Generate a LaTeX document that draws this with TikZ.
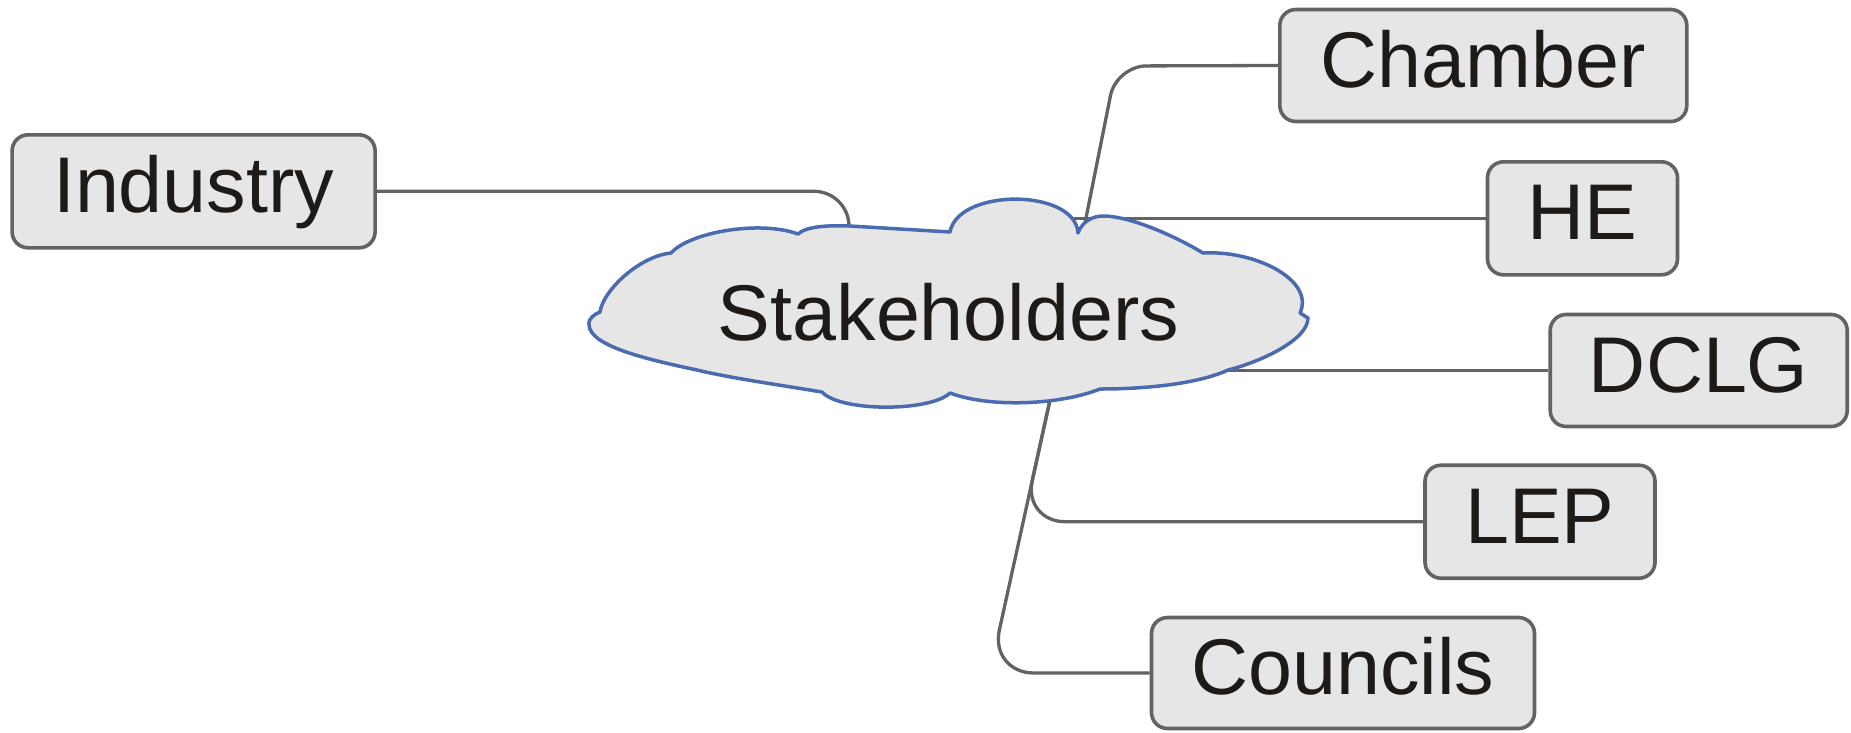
\documentclass[tikz,border=0pt]{standalone}
\usepackage{fontspec}
\setmainfont{Liberation Sans}
\definecolor{boxfill}{HTML}{E6E6E6}
\definecolor{boxline}{HTML}{636363}
\definecolor{cloudline}{HTML}{4B6BB0}
\definecolor{txt}{HTML}{1E1A17}
\tikzset{
  lbl/.style={font=\fontsize{79}{90}\selectfont, text=txt, inner sep=0pt, text height=57pt, text depth=14pt},
  boxnode/.style={lbl, draw=boxline, fill=boxfill, line width=3.6pt, rounded corners=16pt},
  conn/.style={draw=boxline, line width=3.3pt},
  cloudshape/.style={draw=cloudline, fill=boxfill, line width=3.5pt, line join=round}
}
\begin{document}
\begin{tikzpicture}[x=1pt,y=-1pt]
\useasboundingbox (0,0) rectangle (1851,732);
% boxes
\node[boxnode, minimum width=363pt, minimum height=113pt] (industry) at (193.6,191.3) {Industry};
\node[boxnode, minimum width=407pt, minimum height=112pt] (chamber) at (1483.3,65.5) {Chamber};
\node[boxnode, minimum width=190pt, minimum height=113pt] (he) at (1582.5,218.3) {HE};
\node[boxnode, minimum width=297pt, minimum height=112pt] (dclg) at (1698.7,370.5) {DCLG};
\node[boxnode, minimum width=230pt, minimum height=113pt] (lep) at (1540,521.7) {LEP};
\node[boxnode, minimum width=383pt, minimum height=111pt] (councils) at (1343,673) {Councils};
% hidden origins inside the cloud
\coordinate (oi) at (849,300);
\coordinate (oc) at (1069.6,300);
\coordinate (kc) at (1116.4,66);
\coordinate (oh) at (1000,218.3);
\coordinate (od) at (1100,370.5);
\coordinate (ol) at (1069.8,310);
\coordinate (kl) at (1023.2,521.7);
\coordinate (kco) at (989.9,673);
% connectors
\draw[conn, rounded corners=35pt] (industry.east) -| (oi);
\draw[conn, rounded corners=30pt] (oc) -- (kc) -- (chamber.west);
\draw[conn] (oh) -- (he.west);
\draw[conn] (od) -- (dclg.west);
\draw[conn, rounded corners=42pt] (ol) -- (kl) -- (lep.west);
\draw[conn, rounded corners=44pt] (ol) -- (kco) -- (councils.west);
% cloud
\path[cloudshape] (600,312)
  .. controls (603,290) and (640,256) .. (671,253)
  .. controls (690,232) and (760,220) .. (798,234)
  .. controls (805,227) and (825,225) .. (850,226)
  -- (950,232)
  .. controls (958,188) and (1075,188) .. (1078,233)
  .. controls (1082,222) and (1092,216) .. (1103,216)
  .. controls (1130,216) and (1175,236) .. (1203,253)
  .. controls (1255,250) and (1315,280) .. (1300,313)
  -- (1308,318)
  .. controls (1308,340) and (1260,362) .. (1228,370)
  .. controls (1200,383) and (1150,389) .. (1100,389)
  .. controls (1060,405) and (990,408) .. (950,393)
  .. controls (930,412) and (840,412) .. (822,392)
  .. controls (780,385) and (730,378) .. (697,370)
  .. controls (640,358) and (590,345) .. (589,325)
  .. controls (588,318) and (595,314) .. cycle;
\node[lbl] (stake) at (948.5,318.5) {Stakeholders};
\end{tikzpicture}
\end{document}
